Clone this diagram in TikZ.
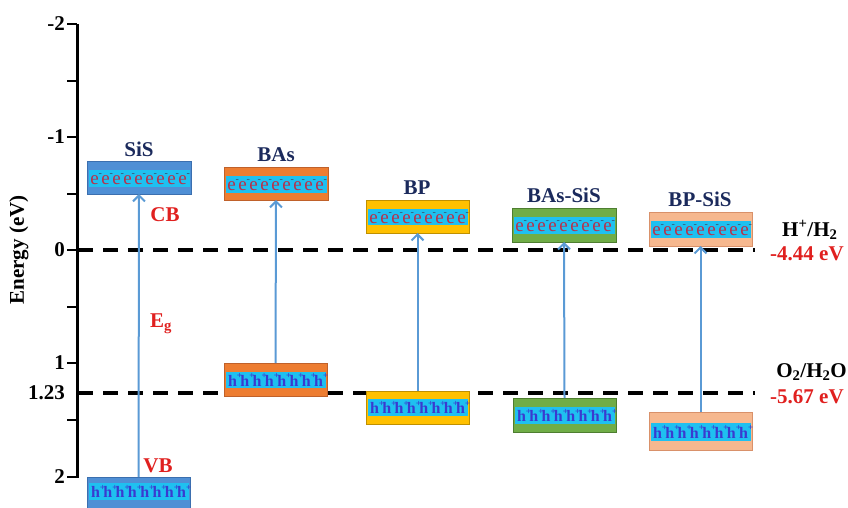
\documentclass[tikz,border=0pt]{standalone}
\usepackage{fontspec}
\setmainfont{Liberation Serif}
\usetikzlibrary{arrows.meta}
\definecolor{sisfill}{HTML}{4F8FD5}
\definecolor{sisdraw}{HTML}{3B6FAF}
\definecolor{basfill}{HTML}{ED7D31}
\definecolor{basdraw}{HTML}{C0612A}
\definecolor{bpfill}{HTML}{FFC000}
\definecolor{bpdraw}{HTML}{BF9000}
\definecolor{bassisfill}{HTML}{70AD47}
\definecolor{bassisdraw}{HTML}{4E7E30}
\definecolor{bpsisfill}{HTML}{F6B88F}
\definecolor{bpsisdraw}{HTML}{D9916A}
\definecolor{stripc}{HTML}{1FC0F0}
\definecolor{ecol}{HTML}{B8304A}
\definecolor{emin}{HTML}{3A4A6A}
\definecolor{hcol}{HTML}{3A3AD0}
\definecolor{arrc}{HTML}{5A9AD5}
\definecolor{redlab}{HTML}{E0201F}
\definecolor{navylab}{HTML}{1B2A5C}
\tikzset{
  bandbox/.style={rectangle, inner sep=0pt, outer sep=0pt, line width=0.8pt},
  stripbox/.style={rectangle, inner sep=0pt, outer sep=0pt, fill=stripc, draw=none},
  echar/.style={inner sep=0pt, text=ecol, font=\fontsize{19}{19}\selectfont\mdseries},
  hchar/.style={inner sep=0pt, text=hcol, font=\fontsize{16}{16}\selectfont\bfseries},
  arr/.style={draw=arrc, line width=2pt, -{Straight Barb[length=6pt,width=12pt,line width=2pt]}},
  dashline/.style={line width=3.5pt, dash pattern=on 15pt off 10pt},
  matlab/.style={text=navylab, anchor=base, inner sep=0pt},
  redtxt/.style={text=redlab, inner sep=0pt},
  ticklab/.style={anchor=east, inner sep=0pt}
}
% #1 name, #2 x1, #3 y1, #4 x2, #5 y2, #6 fill, #7 border, #8 strip y1, #9 strip y2
\newcommand{\mkband}[9]{%
  \node[bandbox, fill=#6, draw=#7, minimum width={#4-#2}, minimum height={#5-#3}] (#1) at ({(#2+#4)/2},{(#3+#5)/2}) {};
  \node[stripbox, minimum width={#4-#2-3}, minimum height={#9-#8}] (#1s) at ({(#2+#4)/2},{(#8+#9)/2}) {};
}
\newcommand{\echars}[1]{\foreach \i in {0,...,8} {\node[echar, xshift={6+11*\i}, yshift=-1] (#1-e\i) at (#1s.west) {e\rlap{\raisebox{0.42em}{\fontsize{10}{10}\selectfont\textcolor{emin}{-}}}};}}
\newcommand{\hchars}[1]{\foreach \i in {0,...,7} {\node[hchar, xshift={7+12.3*\i}] (#1-h\i) at (#1s.west) {h\rlap{\raisebox{0.45em}{\fontsize{9}{9}\selectfont +}}};}}
\begin{document}
\begin{tikzpicture}[x=1pt, y=-1pt, font=\fontsize{21}{25}\selectfont\bfseries]
\useasboundingbox (0,0) rectangle (848,508);
% axis
\coordinate (axtop) at (77,24);
\coordinate (axbot) at (77,478);
\draw[line width=3pt] (axtop) -- (axbot);
\foreach \y in {24,81,137,194,250,307,363,420,477} {\draw[line width=2.5pt] (67,\y) -- (77,\y);}
\node[ticklab] (t-2) at (65,24) {-2};
\node[ticklab] (t-1) at (65,137) {-1};
\node[ticklab] (t0) at (65,250) {0};
\node[ticklab] (t1) at (65,363) {1};
\node[ticklab] (t123) at (65,393) {1.23};
\node[ticklab] (t2) at (65,477) {2};
\node[rotate=90, inner sep=0pt] (ylab) at (19,250) {Energy (eV)};
% dashed reference lines
\coordinate (h0a) at (78,250); \coordinate (h0b) at (755,250);
\coordinate (h1a) at (78,393); \coordinate (h1b) at (755,393);
\draw[dashline] (h0a) -- (h0b);
\draw[dashline] (h1a) -- (h1b);
% bands
\mkband{sisc}{87}{161}{191}{194}{sisfill}{sisdraw}{170}{187}
\mkband{sisv}{87}{477}{190}{510}{sisfill}{sisdraw}{483}{500}
\mkband{basc}{224}{167}{328}{200}{basfill}{basdraw}{176}{193}
\mkband{basv}{224}{363}{327}{396}{basfill}{basdraw}{372}{388}
\mkband{bpc}{366}{200}{469}{233}{bpfill}{bpdraw}{209}{225}
\mkband{bpv}{366}{391}{469}{424}{bpfill}{bpdraw}{399}{416}
\mkband{bassc}{512}{208}{616}{242}{bassisfill}{bassisdraw}{217}{234}
\mkband{bassv}{513}{398}{616}{432}{bassisfill}{bassisdraw}{407}{424}
\mkband{bpsc}{649}{212}{752}{246}{bpsisfill}{bpsisdraw}{221}{238}
\mkband{bpsv}{649}{412}{752}{450}{bpsisfill}{bpsisdraw}{423}{441}
\echars{sisc} \echars{basc} \echars{bpc} \echars{bassc} \echars{bpsc}
\hchars{sisv} \hchars{basv} \hchars{bpv} \hchars{bassv} \hchars{bpsv}
% arrows
\draw[arr] (sisv.north) -- (sisc.south);
\draw[arr] (basv.north) -- (basc.south);
\draw[arr] (bpv.north) -- (bpc.south);
\draw[arr] (bassv.north) -- (bassc.south);
\draw[arr] (bpsv.north) -- (bpsc.south);
% material labels
\node[matlab] (lsis) at (139,156) {SiS};
\node[matlab] (lbas) at (276,161) {BAs};
\node[matlab] (lbp) at (417,194) {BP};
\node[matlab] (lbass) at (564,202) {BAs-SiS};
\node[matlab] (lbps) at (700,206) {BP-SiS};
% band labels
\node[redtxt, anchor=base] (lcb) at (165,221) {CB};
\node[redtxt, anchor=base west] (leg) at (150,327) {E\textsubscript{g}};
\node[redtxt, anchor=base] (lvb) at (158,472) {VB};
% redox labels
\node[anchor=base west, inner sep=0pt] (lh) at (782,236) {H\textsuperscript{+}/H\textsubscript{2}};
\node[redtxt, anchor=base west] (lhe) at (770,260) {-4.44 eV};
\node[anchor=base east, inner sep=0pt] (lo) at (847,377) {O\textsubscript{2}/H\textsubscript{2}O};
\node[redtxt, anchor=base west] (loe) at (770,403) {-5.67 eV};
\end{tikzpicture}
\end{document}
